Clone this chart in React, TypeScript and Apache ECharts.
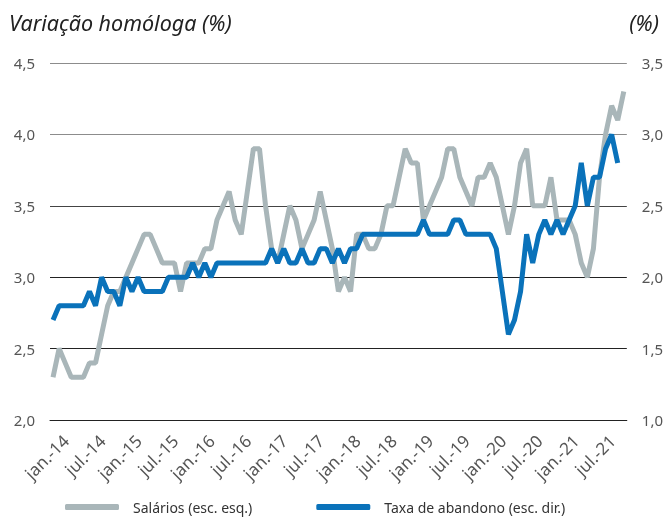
import React, { useEffect, useRef } from 'react';
import * as echarts from 'echarts';

const monthNames = ['jan.', 'fev.', 'mar.', 'abr.', 'mai.', 'jun.', 'jul.', 'ago.', 'set.', 'out.', 'nov.', 'dez.'];
const years = [14, 15, 16, 17, 18, 19, 20, 21];
const categories: string[] = [];
years.forEach((y) => monthNames.forEach((m) => categories.push(`${m}-${y}`)));
const months = categories.slice(0, 95);

// Salários (esc. esq.) — jan-14 .. nov-21
const salarios = [
  2.3, 2.5, 2.4, 2.3, 2.3, 2.3, 2.4, 2.4, 2.6, 2.8,
  2.9, 2.9, 3.0, 3.1, 3.2, 3.3, 3.3, 3.2, 3.1, 3.1,
  3.1, 2.9, 3.1, 3.1, 3.1, 3.2, 3.2, 3.4, 3.5, 3.6,
  3.4, 3.3, 3.6, 3.9, 3.9, 3.5, 3.2, 3.1, 3.3, 3.5,
  3.4, 3.2, 3.3, 3.4, 3.6, 3.4, 3.2, 2.9, 3.0, 2.9,
  3.3, 3.3, 3.2, 3.2, 3.3, 3.5, 3.5, 3.7, 3.9, 3.8,
  3.8, 3.4, 3.5, 3.6, 3.7, 3.9, 3.9, 3.7, 3.6, 3.5,
  3.7, 3.7, 3.8, 3.7, 3.5, 3.3, 3.5, 3.8, 3.9, 3.5,
  3.5, 3.5, 3.7, 3.4, 3.4, 3.4, 3.3, 3.1, 3.0, 3.2,
  3.7, 4.0, 4.2, 4.1, 4.3,
];

// Taxa de abandono (esc. dir.) — jan-14 .. out-21
const abandono = [
  1.7, 1.8, 1.8, 1.8, 1.8, 1.8, 1.9, 1.8, 2.0, 1.9,
  1.9, 1.8, 2.0, 1.9, 2.0, 1.9, 1.9, 1.9, 1.9, 2.0,
  2.0, 2.0, 2.0, 2.1, 2.0, 2.1, 2.0, 2.1, 2.1, 2.1,
  2.1, 2.1, 2.1, 2.1, 2.1, 2.1, 2.2, 2.1, 2.2, 2.1,
  2.1, 2.2, 2.1, 2.1, 2.2, 2.2, 2.1, 2.2, 2.1, 2.2,
  2.2, 2.3, 2.3, 2.3, 2.3, 2.3, 2.3, 2.3, 2.3, 2.3,
  2.3, 2.4, 2.3, 2.3, 2.3, 2.3, 2.4, 2.4, 2.3, 2.3,
  2.3, 2.3, 2.3, 2.2, 1.9, 1.6, 1.7, 1.9, 2.3, 2.1,
  2.3, 2.4, 2.3, 2.4, 2.3, 2.4, 2.5, 2.8, 2.5, 2.7,
  2.7, 2.9, 3.0, 2.8,
];

const FONT = 'Noto Sans';
const GRAY = '#a9b6b9';
const BLUE = '#0a72ba';

export default function App() {
  const ref = useRef<HTMLDivElement>(null);
  useEffect(() => {
    const chart = echarts.init(ref.current!, null, { renderer: 'svg' });
    const fmt = (v: number) => v.toFixed(1).replace('.', ',');
    const titleStyle = { fontFamily: FONT, fontSize: 21.5, fontStyle: 'italic', fontWeight: 'normal', color: '#222' };
    chart.setOption({
      animation: false,
      textStyle: { fontFamily: FONT },
      title: [
        { text: 'Variação homóloga (%)', left: 4, top: 6, textStyle: titleStyle },
        { text: '(%)', right: 2, top: 6, textStyle: titleStyle },
      ],
      grid: { left: 50, right: 38, top: 63, bottom: 97 },
      legend: {
        left: 65,
        top: 500,
        padding: 0,
        itemWidth: 54,
        itemHeight: 6,
        itemGap: 64,
        icon: 'roundRect',
        textStyle: { fontFamily: FONT, fontSize: 14, color: '#333', padding: [0, 0, 0, 9] },
        data: ['Salários (esc. esq.)', 'Taxa de abandono (esc. dir.)'],
      },
      xAxis: {
        type: 'category',
        data: months,
        boundaryGap: true,
        axisLine: { lineStyle: { color: '#222', width: 1 } },
        axisTick: { inside: true, length: 5, interval: 5, lineStyle: { color: '#222' } },
        axisLabel: {
          interval: 0,
          formatter: (v: string, i: number) => (i % 6 === 0 ? v : ''),
          rotate: 45,
          fontSize: 17,
          color: '#555',
          margin: 5,
          align: 'right',
          verticalAlign: 'top',
          lineHeight: 36,
          fontFamily: FONT,
        },
        splitLine: { show: false },
      },
      yAxis: [
        {
          type: 'value',
          min: 2,
          max: 4.5,
          interval: 0.5,
          position: 'left',
          axisLine: { show: false },
          axisTick: { show: false },
          axisLabel: { formatter: fmt, fontSize: 15, color: '#555', margin: 15, fontFamily: FONT },
          splitLine: { lineStyle: { color: ['#222', '#222', '#222', '#444', '#8c8c8c', '#8c8c8c'], width: 1 } },
        },
        {
          type: 'value',
          min: 1,
          max: 3.5,
          interval: 0.5,
          position: 'right',
          axisLine: { show: false },
          axisTick: { show: false },
          axisLabel: { formatter: fmt, fontSize: 15, color: '#555', margin: 15, fontFamily: FONT },
          splitLine: { show: false },
        },
      ],
      series: [
        {
          name: 'Salários (esc. esq.)',
          type: 'line',
          yAxisIndex: 0,
          data: salarios,
          symbol: 'none',
          showSymbol: false,
          lineStyle: { width: 5, color: GRAY },
          itemStyle: { color: GRAY },
        },
        {
          name: 'Taxa de abandono (esc. dir.)',
          type: 'line',
          yAxisIndex: 1,
          data: abandono,
          symbol: 'none',
          showSymbol: false,
          lineStyle: { width: 5, color: BLUE },
          itemStyle: { color: BLUE },
        },
      ],
    });
    return () => chart.dispose();
  }, []);
  return <div ref={ref} style={{ position: 'fixed', left: 0, top: 0, width: 666, height: 517 }} />;
}
